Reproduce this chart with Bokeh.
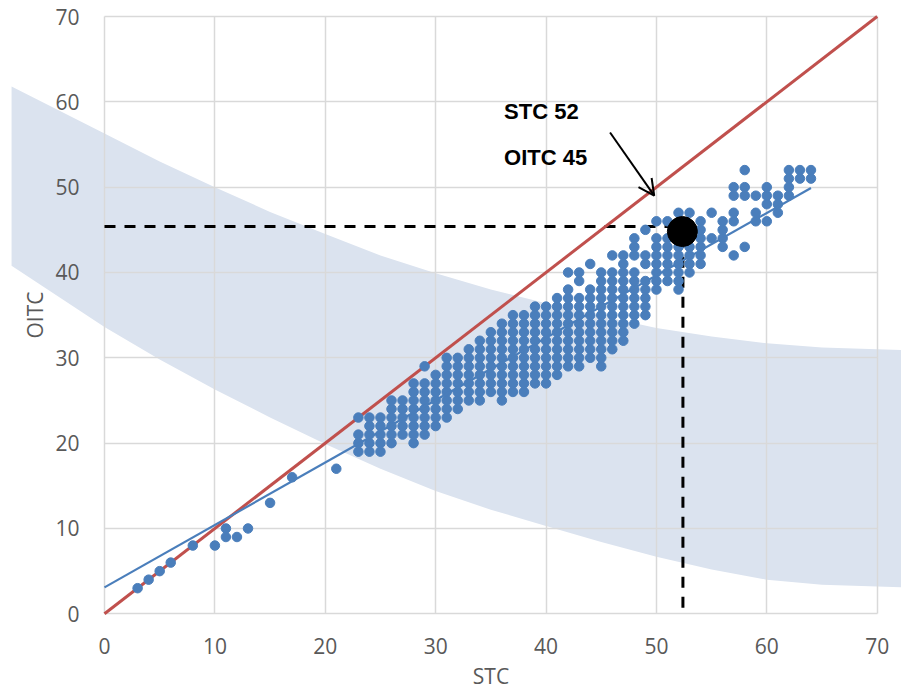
from bokeh.plotting import figure
from bokeh.models import FixedTicker, Arrow, OpenHead
from bokeh.core.properties import value
from bokeh.embed import file_html
from bokeh.resources import INLINE

# ---------------- data ----------------
stc_ticks = [0, 10, 20, 30, 40, 50, 60, 70]
oitc_ticks = [0, 10, 20, 30, 40, 50, 60, 70]

# isolated low-rated points
low_stc = [3, 4, 5, 6, 8, 10, 11, 11, 12, 13, 15, 17, 21]
low_oitc = [3, 4, 5, 6, 8, 8, 9, 10, 9, 10, 13, 16, 17]

# dense cloud: STC -> list of OITC values
cloud = {
    23: [19, 20, 21, 23],
    24: [19, 20, 21, 22, 23],
    25: [19, 20, 21, 22, 23],
    26: [20, 21, 22, 23, 24, 25],
    27: [21, 22, 23, 24, 25],
    28: [20, 21, 22, 23, 24, 25, 26, 27],
    29: [21, 22, 23, 24, 25, 26, 27, 29],
    30: [22, 23, 24, 25, 26, 27, 28],
    31: [23, 24, 25, 26, 27, 28, 29, 30],
    32: [24, 25, 26, 27, 28, 29, 30],
    33: [25, 26, 27, 28, 29, 30, 31],
    34: [25, 26, 27, 28, 29, 30, 31, 32],
    35: [26, 27, 28, 29, 30, 31, 32, 33],
    36: [25, 26, 27, 28, 29, 30, 31, 32, 33, 34],
    37: [26, 27, 28, 29, 30, 31, 32, 33, 34, 35],
    38: [26, 27, 28, 29, 30, 31, 32, 33, 34, 35],
    39: [27, 28, 29, 30, 31, 32, 33, 34, 35, 36],
    40: [27, 28, 29, 30, 31, 32, 33, 34, 35, 36],
    41: [28, 29, 30, 31, 32, 33, 34, 35, 36, 37],
    42: [29, 30, 31, 32, 33, 34, 35, 36, 37, 38, 40],
    43: [29, 30, 31, 32, 33, 34, 35, 36, 37, 39, 40],
    44: [30, 31, 32, 33, 34, 35, 36, 37, 38, 41],
    45: [29, 30, 31, 32, 33, 34, 35, 36, 37, 38, 39, 40],
    46: [31, 32, 33, 34, 35, 36, 37, 38, 39, 40, 42],
    47: [32, 33, 34, 35, 36, 37, 38, 39, 40, 41, 42],
    48: [34, 35, 36, 37, 38, 39, 40, 42, 43, 44],
    49: [35, 36, 37, 38, 39, 41, 42, 45],
    50: [38, 39, 40, 41, 42, 43, 44, 46],
    51: [39, 40, 41, 42, 43, 44, 46],
    52: [38, 39, 40, 41, 42, 43, 44, 47],
    53: [40, 41, 42, 43, 44, 47],
    54: [41, 42, 43, 44, 45, 46],
    55: [44, 47],
    56: [43, 44, 45, 46],
    57: [42, 46, 47, 49, 50],
    58: [43, 49, 50, 52],
    59: [46, 47, 49],
    60: [46, 48, 49, 50],
    61: [47, 48, 49],
    62: [49, 50, 51, 52],
    63: [51, 52],
    64: [51, 52],
}

# shaded band
band_x = [-8.42, 0, 5, 10, 15, 20, 25, 30, 35, 40, 45, 50, 55, 60, 65, 72.3]
band_upper = [61.8, 56.3, 53.0, 50.0, 47.1, 44.5, 42.0, 39.9, 38.0, 36.4, 34.9, 33.5, 32.5, 31.7, 31.2, 30.9]
band_lower = [40.8, 33.6, 29.8, 26.3, 23.0, 19.9, 17.0, 14.4, 12.2, 10.3, 8.4, 6.7, 5.2, 4.0, 3.4, 3.1]

# regression line and 1:1 line
trend_x = [0, 64]
trend_y = [3.1, 49.9]
ref_x = [0, 70]
ref_y = [0, 70]

# highlighted specimen and guides
target_stc = [52.35]
target_oitc = [44.8]
guide_h_x = [0, 52.35]
guide_h_y = [45.4, 45.4]
guide_v_x = [52.4, 52.4]
guide_v_y = [0.7, 44.8]

annot_text = ["STC 52", "OITC 45"]
annot_x = [36.2, 36.2]
annot_y = [58.9, 53.5]
arrow_start = (45.8, 56.4)
arrow_end = (49.8, 49.0)

# ---------------- plot ----------------
BLUE = "#4a7ebb"
RED = "#c0504d"
BAND = "#dbe3ef"
GRID = "#d9d9d9"
TXT = "#595959"
FONT = "Open Sans"

cloud_x, cloud_y = [], []
for s, vals in cloud.items():
    for v in vals:
        cloud_x.append(s)
        cloud_y.append(v)

W, H = 901, 693
x0_px, x70_px = 104.0, 876.7     # where STC 0 / 70 sit on the page
y0_px, y70_px = 613.3, 16.0      # where OITC 0 / 70 sit on the page
sx = (x70_px - x0_px) / 70.0
sy = (y0_px - y70_px) / 70.0
x_range = ((0 - x0_px) / sx, (W - x0_px) / sx)
y_range = (-(H - y0_px) / sy, 70 + y70_px / sy)

p = figure(width=W, height=H, x_range=x_range, y_range=y_range,
           output_backend="svg", toolbar_location=None,
           min_border_left=0, min_border_right=0, min_border_top=0, min_border_bottom=0)
p.outline_line_color = None
p.background_fill_color = "white"
p.border_fill_color = "white"

# axes (drawn at the data origin, inside the frame)
for ax, ticks in ((p.xaxis[0], stc_ticks), (p.yaxis[0], oitc_ticks)):
    ax.ticker = FixedTicker(ticks=ticks)
    ax.fixed_location = 0
    ax.bounds = (0, 70)
    ax.axis_line_color = None
    ax.major_tick_line_color = None
    ax.minor_tick_line_color = None
    ax.major_label_text_font = FONT
    ax.major_label_text_font_size = "21px"
    ax.major_label_text_color = TXT
    ax.axis_label_text_font = FONT
    ax.axis_label_text_font_size = "21px"
    ax.axis_label_text_font_style = "normal"
    ax.axis_label_text_color = TXT

p.xaxis.axis_label = "STC"
p.yaxis.axis_label = "OITC"
p.xaxis.major_label_standoff = 18
p.xaxis.axis_label_standoff = 5
p.yaxis.major_label_standoff = 19
p.yaxis.axis_label_standoff = 3

# grid limited to the 0..70 square
p.xgrid.grid_line_color = GRID
p.ygrid.grid_line_color = GRID
p.xgrid.grid_line_width = 1.5
p.ygrid.grid_line_width = 1.5
try:
    p.xgrid.cross_bounds = (0, 70)
    p.ygrid.cross_bounds = (0, 70)
except Exception:
    p.xgrid.visible = False
    p.ygrid.visible = False
    p.segment(x0=[0] * len(oitc_ticks), y0=oitc_ticks, x1=[70] * len(oitc_ticks), y1=oitc_ticks,
              line_color=GRID, line_width=1.5, level="underlay")
    p.segment(x0=stc_ticks, y0=[0] * len(stc_ticks), x1=stc_ticks, y1=[70] * len(stc_ticks),
              line_color=GRID, line_width=1.5, level="underlay")

# band
p.varea(x=band_x, y1=band_lower, y2=band_upper, fill_color=BAND, level="image")

# guides
p.line(guide_h_x, guide_h_y, line_color="black", line_width=3, line_dash="11 9")
p.line(guide_v_x, guide_v_y, line_color="black", line_width=3, line_dash="11 9")

# 1:1 line
p.line(ref_x, ref_y, line_color=RED, line_width=3)

# points
p.scatter(low_stc, low_oitc, size=9.5, fill_color=BLUE, line_color=BLUE)
p.scatter(cloud_x, cloud_y, size=9.5, fill_color=BLUE, line_color=BLUE)

# regression
p.line(trend_x, trend_y, line_color=BLUE, line_width=2.2)

# highlighted point
p.scatter(target_stc, target_oitc, size=30, fill_color="black", line_color="black")

# annotation
p.text(x=annot_x, y=annot_y, text=annot_text, text_font=value("Liberation Sans"),
       text_font_style="bold", text_font_size="22px", text_color="black",
       text_align="left", text_baseline="middle")
p.add_layout(Arrow(end=OpenHead(size=16, line_width=2, line_color="black"),
                   x_start=arrow_start[0], y_start=arrow_start[1],
                   x_end=arrow_end[0], y_end=arrow_end[1],
                   line_color="black", line_width=2))

open("out.html", "w").write(file_html(p, INLINE))
